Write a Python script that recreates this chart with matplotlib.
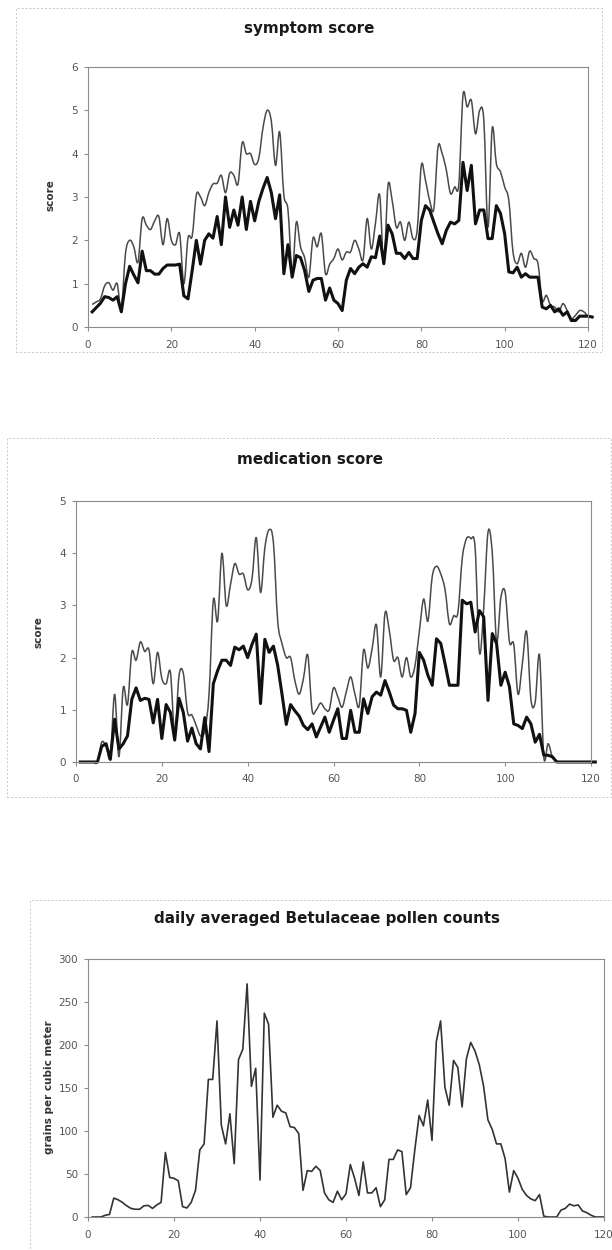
import matplotlib
matplotlib.use("Agg")
import matplotlib.pyplot as plt
from matplotlib.patches import Rectangle, PathPatch
from matplotlib.path import Path
import numpy as np

# ---- data ----
days_scores = list(range(1, 122))
days_pollen = list(range(1, 121))

symptom_thin = [0.52, 0.58, 0.65, 0.95, 1.02, 0.85, 1.0, 0.42, 1.7, 2.0,
                1.85, 1.5, 2.5, 2.35, 2.25, 2.45, 2.55, 1.9, 2.5, 2.0,
                1.9, 2.15, 1.0, 2.05, 2.1, 3.05, 3.0, 2.8, 3.1, 3.3,
                3.32, 3.5, 3.1, 3.55, 3.5, 3.3, 4.25, 4.0, 4.0, 3.75,
                3.9, 4.6, 5.0, 4.75, 3.73, 4.5, 3.05, 2.7, 1.25, 2.42,
                1.85, 1.6, 1.15, 2.05, 1.85, 2.15, 1.23, 1.45, 1.58, 1.8,
                1.55, 1.73, 1.73, 2.0, 1.8, 1.55, 2.5, 1.8, 2.4, 3.05,
                1.45, 3.27, 2.92, 2.3, 2.42, 2.0, 2.42, 2.04, 2.23, 3.73,
                3.38, 2.92, 2.73, 4.15, 4.0, 3.62, 3.08, 3.23, 3.3, 5.35,
                5.08, 5.23, 4.46, 5.0, 4.77, 2.3, 4.58, 3.77, 3.58, 3.23,
                2.92, 1.73, 1.46, 1.7, 1.38, 1.75, 1.58, 1.46, 0.62, 0.73,
                0.5, 0.46, 0.35, 0.54, 0.38, 0.19, 0.27, 0.38, 0.35, 0.25,
                0.23]
symptom_thick = [0.35, 0.45, 0.55, 0.7, 0.68, 0.62, 0.7, 0.35, 1.0, 1.4,
                 1.2, 1.02, 1.75, 1.3, 1.3, 1.22, 1.22, 1.35, 1.43, 1.43,
                 1.43, 1.45, 0.72, 0.65, 1.3, 2.0, 1.45, 2.0, 2.15, 2.05,
                 2.55, 1.9, 3.0, 2.3, 2.7, 2.35, 3.0, 2.25, 2.9, 2.45,
                 2.9, 3.2, 3.45, 3.1, 2.5, 3.05, 1.23, 1.9, 1.15, 1.65,
                 1.6, 1.3, 0.82, 1.08, 1.12, 1.12, 0.62, 0.9, 0.62, 0.54,
                 0.38, 1.08, 1.35, 1.23, 1.38, 1.46, 1.38, 1.62, 1.6, 2.1,
                 1.46, 2.35, 2.15, 1.7, 1.7, 1.58, 1.72, 1.58, 1.58, 2.46,
                 2.8, 2.7, 2.42, 2.15, 1.92, 2.23, 2.42, 2.38, 2.46, 3.8,
                 3.15, 3.73, 2.38, 2.7, 2.7, 2.04, 2.04, 2.8, 2.62, 2.15,
                 1.27, 1.25, 1.38, 1.15, 1.23, 1.15, 1.15, 1.15, 0.46, 0.42,
                 0.5, 0.35, 0.42, 0.27, 0.35, 0.15, 0.15, 0.25, 0.25, 0.25,
                 0.23]

medication_thin = [0, 0, 0, 0, 0, 0.38, 0.3, 0.1, 1.3, 0.1,
                   1.42, 1.1, 2.1, 1.95, 2.3, 2.12, 2.15, 1.5, 2.1, 1.6,
                   1.5, 1.72, 0.55, 1.65, 1.7, 0.95, 0.9, 0.7, 0.5, 0.6,
                   1.3, 3.1, 2.7, 4.0, 3.0, 3.4, 3.8, 3.6, 3.6, 3.3,
                   3.5, 4.3, 3.25, 4.1, 4.45, 4.2, 2.7, 2.27, 2.0, 2.0,
                   1.56, 1.3, 1.6, 2.05, 1.0, 1.0, 1.13, 1.02, 1.0, 1.42,
                   1.25, 1.05, 1.35, 1.63, 1.3, 1.08, 2.14, 1.8, 2.17, 2.63,
                   1.63, 2.85, 2.52, 1.95, 2.0, 1.63, 2.0, 1.63, 1.85, 2.5,
                   3.12, 2.7, 3.55, 3.75, 3.6, 3.3, 2.65, 2.8, 2.87, 3.9,
                   4.28, 4.28, 4.1, 2.1, 2.95, 4.4, 4.0, 2.3, 3.15, 3.25,
                   2.3, 2.25, 1.3, 1.88, 2.5, 1.2, 1.15, 2.05, 0.1, 0.35,
                   0.1, 0.02, 0, 0, 0, 0, 0, 0, 0, 0,
                   0]
medication_thick = [0, 0, 0, 0, 0, 0.3, 0.35, 0.05, 0.82, 0.25,
                    0.35, 0.5, 1.2, 1.42, 1.18, 1.22, 1.2, 0.75, 1.2, 0.45,
                    1.1, 0.95, 0.42, 1.22, 0.95, 0.4, 0.65, 0.35, 0.25, 0.85,
                    0.2, 1.5, 1.75, 1.95, 1.95, 1.85, 2.2, 2.15, 2.22, 2.0,
                    2.25, 2.45, 1.12, 2.35, 2.1, 2.22, 1.85, 1.3, 0.72, 1.1,
                    0.98, 0.88, 0.7, 0.62, 0.73, 0.48, 0.67, 0.86, 0.57, 0.8,
                    1.02, 0.45, 0.45, 0.99, 0.57, 0.57, 1.21, 0.93, 1.25, 1.34,
                    1.28, 1.56, 1.34, 1.09, 1.02, 1.02, 0.99, 0.57, 0.93, 2.1,
                    1.95, 1.66, 1.47, 2.36, 2.27, 1.88, 1.47, 1.47, 1.47, 3.1,
                    3.03, 3.06, 2.49, 2.9, 2.78, 1.18, 2.46, 2.27, 1.47, 1.72,
                    1.44, 0.73, 0.7, 0.64, 0.86, 0.73, 0.38, 0.53, 0.13, 0.13,
                    0.1, 0, 0, 0, 0, 0, 0, 0, 0, 0,
                    0]

pollen = [0, 0, 0, 2, 3, 22, 20, 17, 13, 10,
          9, 9, 13, 13.5, 10, 14, 17, 75, 46, 45,
          42, 12, 10.5, 17, 31, 78, 85, 160, 160, 228,
          107, 85, 120, 62, 183, 195, 271, 152, 173, 43,
          237, 224, 116, 130, 123, 121, 105, 104, 97, 31,
          54, 53, 59, 54, 28, 20, 17, 30, 20, 27,
          61, 45, 25, 64, 28, 28, 34, 12, 20, 67,
          67, 78, 76, 26, 34, 78, 118, 106, 136, 89,
          204, 228, 151, 130, 182, 174, 128, 184, 203, 193,
          177, 152, 113, 102, 85, 85, 68, 29, 54, 45,
          32, 25, 21, 19, 26, 1, 0, 0, 0, 8,
          10, 15, 13, 14, 7, 5, 2, 0, 0, 0]

xticks = [0, 20, 40, 60, 80, 100, 120]

W, H = 612, 1250
fig = plt.figure(figsize=(W / 100, H / 100), dpi=100)
fig.patch.set_facecolor("white")


def rect(l, t, r, b):
    # pixel box (from top-left) -> figure fraction
    return [l / W, 1 - b / H, (r - l) / W, (b - t) / H]


def frame(l, t, r, b):
    fig.add_artist(Rectangle((l / W, 1 - b / H), (r - l) / W, (b - t) / H,
                             transform=fig.transFigure, fill=False,
                             ec="#c8c8c8", lw=0.7, ls=(0, (2, 2))))


def smooth_line(ax, x, y, **kw):
    # Excel-style "smoothed line": bezier segments through the data points
    pts = np.column_stack([np.asarray(x, float), np.asarray(y, float)])
    n = len(pts)
    verts = [pts[0]]
    codes = [Path.MOVETO]
    for i in range(n - 1):
        p0 = pts[i - 1] if i > 0 else pts[i]
        p1, p2 = pts[i], pts[i + 1]
        p3 = pts[i + 2] if i + 2 < n else pts[i + 1]
        verts += [p1 + (p2 - p0) / 6, p2 - (p3 - p1) / 6, p2]
        codes += [Path.CURVE4] * 3
    ax.add_patch(PathPatch(Path(verts, codes), fill=False, clip_on=False, **kw))


def style(ax, ylim, yticks):
    ax.set_xlim(0, 120)
    ax.set_ylim(*ylim)
    ax.set_xticks(xticks)
    ax.set_yticks(yticks)
    for s in ax.spines.values():
        s.set_color("#8c8c8c")
        s.set_linewidth(0.8)
    ax.tick_params(colors="#8c8c8c", labelcolor="#555555", labelsize=7.5,
                   length=3, width=0.8, direction="out")
    ax.tick_params(axis="x", pad=6)
    ax.tick_params(axis="y", pad=4)


title_kw = dict(fontsize=10.9, fontweight="bold", color="#1a1a1a",
                ha="center", va="center")
ylab_kw = dict(fontsize=7.5, fontweight="bold", color="#333333",
               rotation=90, ha="center", va="center")

# ---- symptom score ----
frame(16, 8, 602, 352)
ax1 = fig.add_axes(rect(88, 67, 588, 327))
smooth_line(ax1, days_scores, symptom_thin, ec="#4a4a4a", lw=1.1)
ax1.plot(days_scores, symptom_thick, color="#111111", lw=2.2, clip_on=False)
style(ax1, (0, 6), range(0, 7))
fig.text(309 / W, 1 - 28 / H, "symptom score", **title_kw)
fig.text(50 / W, 1 - 195 / H, "score", **ylab_kw)

# ---- medication score ----
frame(7, 438, 611, 797)
ax2 = fig.add_axes(rect(76, 501, 591, 762))
smooth_line(ax2, days_scores, medication_thin, ec="#4a4a4a", lw=1.1)
ax2.plot(days_scores, medication_thick, color="#111111", lw=2.2, clip_on=False)
style(ax2, (0, 5), range(0, 6))
fig.text(310 / W, 1 - 459 / H, "medication score", **title_kw)
fig.text(39 / W, 1 - 632 / H, "score", **ylab_kw)

# ---- pollen counts ----
frame(30, 900, 640, 1280)
ax3 = fig.add_axes(rect(88, 959, 604, 1217))
ax3.plot(days_pollen, pollen, color="#333333", lw=1.2, clip_on=False)
style(ax3, (0, 300), range(0, 301, 50))
fig.text(327 / W, 1 - 919 / H, "daily averaged Betulaceae pollen counts", **title_kw)
fig.text(49 / W, 1 - 1087 / H, "grains per cubic meter", **ylab_kw)

fig.savefig("out.png", dpi=100, facecolor="white")
